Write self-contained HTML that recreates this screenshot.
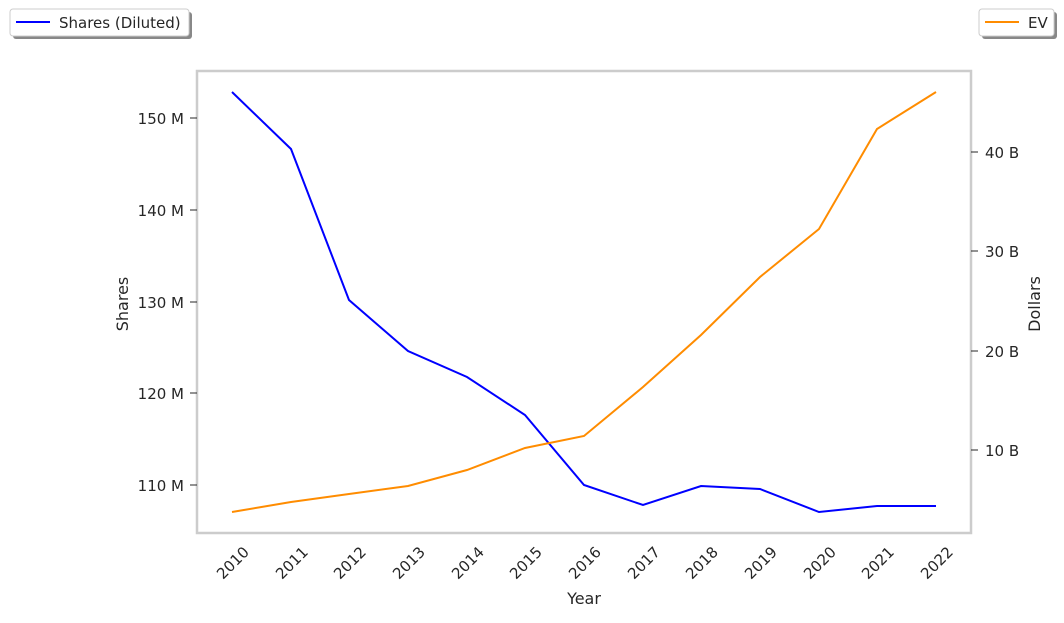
<!DOCTYPE html>
<html><head><meta charset="utf-8"><style>
body{margin:0;background:#fff;}
svg text{font-family:"DejaVu Sans","Liberation Sans",sans-serif;fill:#262626;}
</style></head><body>
<svg width="1064" height="618" viewBox="0 0 1064 618" xmlns="http://www.w3.org/2000/svg">
<rect width="1064" height="618" fill="#fff"/>
<rect x="197" y="71" width="774" height="462" fill="none" stroke="#cccccc" stroke-width="2.5"/>
<g font-size="15" text-anchor="end">
<line x1="190" y1="118" x2="197" y2="118" stroke="#262626"/><text x="184" y="124">150 M</text>
<line x1="190" y1="210" x2="197" y2="210" stroke="#262626"/><text x="184" y="216">140 M</text>
<line x1="190" y1="302" x2="197" y2="302" stroke="#262626"/><text x="184" y="308">130 M</text>
<line x1="190" y1="393" x2="197" y2="393" stroke="#262626"/><text x="184" y="399">120 M</text>
<line x1="190" y1="485" x2="197" y2="485" stroke="#262626"/><text x="184" y="491">110 M</text>
</g>
<g font-size="15" text-anchor="start">
<line x1="971" y1="152" x2="978" y2="152" stroke="#262626"/><text x="985" y="158">40 B</text>
<line x1="971" y1="251" x2="978" y2="251" stroke="#262626"/><text x="985" y="257">30 B</text>
<line x1="971" y1="351" x2="978" y2="351" stroke="#262626"/><text x="985" y="357">20 B</text>
<line x1="971" y1="450" x2="978" y2="450" stroke="#262626"/><text x="985" y="456">10 B</text>
</g>
<g font-size="15" text-anchor="end">
<text transform="translate(250,553) rotate(-45)">2010</text>
<text transform="translate(309,553) rotate(-45)">2011</text>
<text transform="translate(367,553) rotate(-45)">2012</text>
<text transform="translate(426,553) rotate(-45)">2013</text>
<text transform="translate(485,553) rotate(-45)">2014</text>
<text transform="translate(543,553) rotate(-45)">2015</text>
<text transform="translate(602,553) rotate(-45)">2016</text>
<text transform="translate(661,553) rotate(-45)">2017</text>
<text transform="translate(719,553) rotate(-45)">2018</text>
<text transform="translate(778,553) rotate(-45)">2019</text>
<text transform="translate(837,553) rotate(-45)">2020</text>
<text transform="translate(895,553) rotate(-45)">2021</text>
<text transform="translate(954,553) rotate(-45)">2022</text>
</g>
<text x="584" y="604" font-size="16" text-anchor="middle">Year</text>
<text transform="translate(128,304) rotate(-90)" font-size="16" text-anchor="middle">Shares</text>
<text transform="translate(1040,304) rotate(-90)" font-size="16" text-anchor="middle">Dollars</text>
<polyline fill="none" stroke="#0000ff" stroke-width="2" points="232,92 291,149 349,300 408,351 467,377 525,415 584,485 643,505 701,486 760,489 819,512 877,506 936,506"/>
<polyline fill="none" stroke="#ff8c00" stroke-width="2" points="232,512 291,502 349,494 408,486 467,470 525,448 584,436 643,387 701,335 760,277 819,229 877,129 936,92"/>
<rect x="13" y="12" width="179" height="27" rx="3" fill="#888"/>
<rect x="10" y="9" width="179" height="27" rx="3" fill="#fff" stroke="#ccc"/>
<line x1="16" y1="22" x2="50" y2="22" stroke="#0000ff" stroke-width="2"/>
<text x="59" y="28" font-size="15">Shares (Diluted)</text>
<rect x="982" y="12" width="75" height="27" rx="3" fill="#888"/>
<rect x="979" y="9" width="75" height="27" rx="3" fill="#fff" stroke="#ccc"/>
<line x1="985" y1="22" x2="1019" y2="22" stroke="#ff8c00" stroke-width="2"/>
<text x="1028" y="28" font-size="15">EV</text>
</svg>
</body></html>
